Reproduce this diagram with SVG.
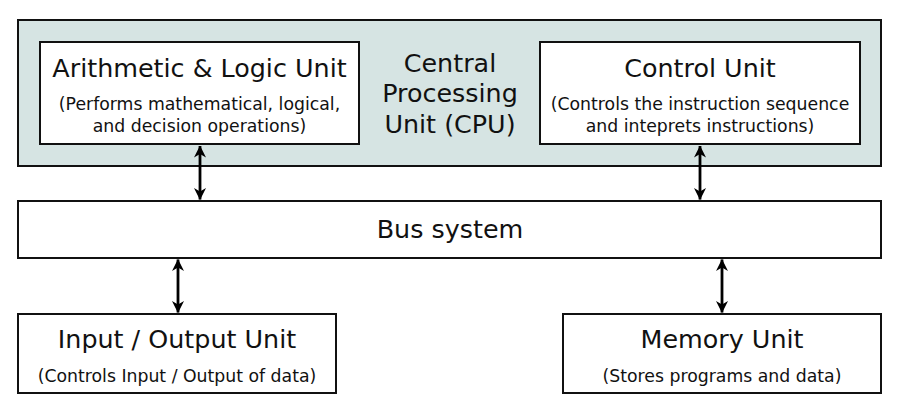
<svg xmlns="http://www.w3.org/2000/svg" width="897" height="408" viewBox="0 0 897 408">
<defs>
<marker id="ah" viewBox="0 -6 12 12" refX="11.5" refY="0" markerWidth="12" markerHeight="12" orient="auto-start-reverse" markerUnits="userSpaceOnUse">
<path d="M0,-6 L12,0 L0,6 L3.5,0 Z" fill="#000"/>
</marker>
</defs>
<style>
.box{fill:#fff;stroke:#111;stroke-width:2}
.cpu{fill:#d6e4e3;stroke:#111;stroke-width:2}
text{font-family:"DejaVu Sans",sans-serif;fill:#111;text-anchor:middle}
.t{font-size:25.4px}
.s{font-size:17.3px}
.c{stroke:#000;stroke-width:2.8;fill:none;marker-start:url(#ah);marker-end:url(#ah)}
</style>
<g id="cpu">
<rect class="cpu" x="18" y="20" width="863" height="146"/>
<text class="t" x="450" y="72">Central</text>
<text class="t" x="450" y="102">Processing</text>
<text class="t" x="450" y="133">Unit (CPU)</text>
</g>
<g id="alu">
<rect class="box" x="40" y="42" width="319" height="102"/>
<text class="t" x="199.5" y="77">Arithmetic &amp; Logic Unit</text>
<text class="s" x="199.5" y="110">(Performs mathematical, logical,</text>
<text class="s" x="199.5" y="132">and decision operations)</text>
</g>
<g id="control">
<rect class="box" x="540" y="42" width="320" height="102"/>
<text class="t" x="700" y="77">Control Unit</text>
<text class="s" x="700" y="110">(Controls the instruction sequence</text>
<text class="s" x="700" y="132">and inteprets instructions)</text>
</g>
<g id="bus">
<rect class="box" x="18" y="201" width="863" height="57"/>
<text class="t" x="450" y="238">Bus system</text>
</g>
<g id="io">
<rect class="box" x="18" y="314" width="318" height="79"/>
<text class="t" x="177" y="348">Input / Output Unit</text>
<text class="s" x="177" y="382">(Controls Input / Output of data)</text>
</g>
<g id="memory">
<rect class="box" x="563" y="314" width="318" height="79"/>
<text class="t" x="722" y="348">Memory Unit</text>
<text class="s" x="722" y="382">(Stores programs and data)</text>
</g>
<g id="connectors">
<line class="c" x1="200" y1="146" x2="200" y2="199.5"/>
<line class="c" x1="700" y1="146" x2="700" y2="199.5"/>
<line class="c" x1="178" y1="259.5" x2="178" y2="312.5"/>
<line class="c" x1="722" y1="259.5" x2="722" y2="312.5"/>
</g>
</svg>
